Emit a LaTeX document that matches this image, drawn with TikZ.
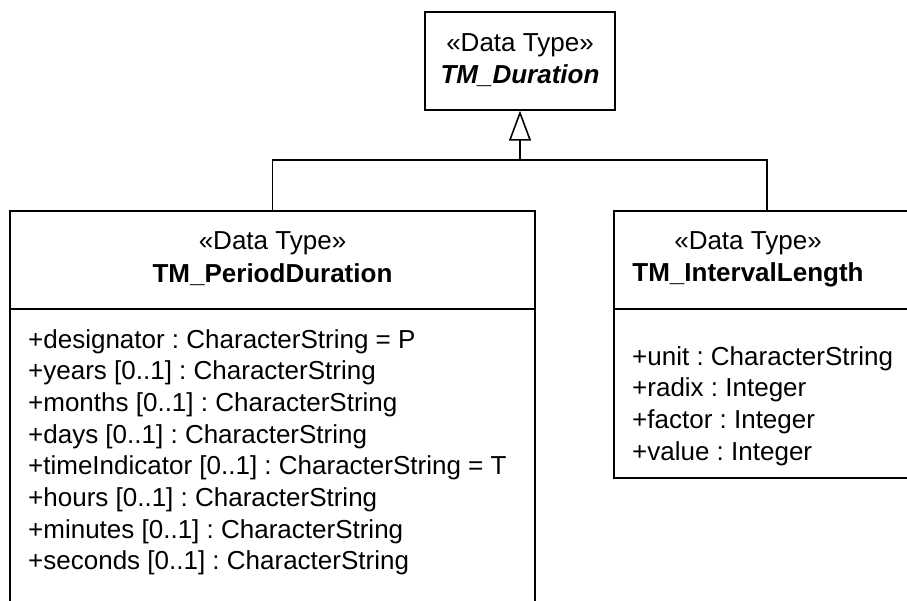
\documentclass[tikz,border=0pt]{standalone}
\usepackage{fontspec}
\setmainfont{Liberation Sans}
\usetikzlibrary{arrows.meta}
\frenchspacing
\tikzset{
  cls/.style={draw=black, line width=1.3pt, rectangle, inner sep=0pt},
  txt/.style={inner sep=0pt, font=\fontsize{26}{31.7}\selectfont, align=left},
  hd/.style={inner sep=0pt, font=\fontsize{26}{31}\selectfont, align=center},
  lnk/.style={draw=black, line width=1.6pt},
}
\begin{document}
\begin{tikzpicture}[x=1pt,y=-1pt]
\clip (0,0) rectangle (907,600);
\fill[white] (0,0) rectangle (907,600);
% boxes
\node[cls, minimum width=190pt, minimum height=98pt] (dur) at (520,61) {};
\node[cls, minimum width=525pt, minimum height=429pt] (pd) at (272.5,425.5) {};
\node[cls, minimum width=336pt, minimum height=267pt] (il) at (782,344.5) {};
\draw[line width=1.3pt] (10,309) -- (535,309);
\draw[line width=1.3pt] (614,309) -- (950,309);
% headers
\node[hd] (durs) at (520,45) {«Data Type»};
\node[hd, font=\fontsize{26}{31}\selectfont\bfseries\itshape] (durn) at (520,76) {TM\_Duration};
\node[hd] (pds) at (272.5,243) {«Data Type»};
\node[hd, font=\fontsize{26}{31}\selectfont\bfseries] (pdn) at (272.5,275) {TM\_PeriodDuration};
\node[hd] (ils) at (748,243) {«Data Type»};
\node[hd, font=\fontsize{26}{31}\selectfont\bfseries] (iln) at (748,275) {TM\_IntervalLength};
% attributes
\node[txt, anchor=north west] (pda) at (28,329) {+designator : CharacterString = P\\
+years [0..1] : CharacterString\\
+months [0..1] : CharacterString\\
+days [0..1] : CharacterString\\
+timeIndicator [0..1] : CharacterString = T\\
+hours [0..1] : CharacterString\\
+minutes [0..1] : CharacterString\\
+seconds [0..1] : CharacterString};
\node[txt, anchor=north west] (ila) at (632,346) {+unit : CharacterString\\
+radix : Integer\\
+factor : Integer\\
+value : Integer};
% generalization
\coordinate (j) at (520,160);
\coordinate (ilt) at (767,211);
\draw[lnk] (pd.north) |- (j) -| (ilt);
\draw[lnk, -{Triangle[open, length=30pt, width=22pt, line width=1.6pt]}] (j) -- (dur.south);
\end{tikzpicture}
\end{document}
